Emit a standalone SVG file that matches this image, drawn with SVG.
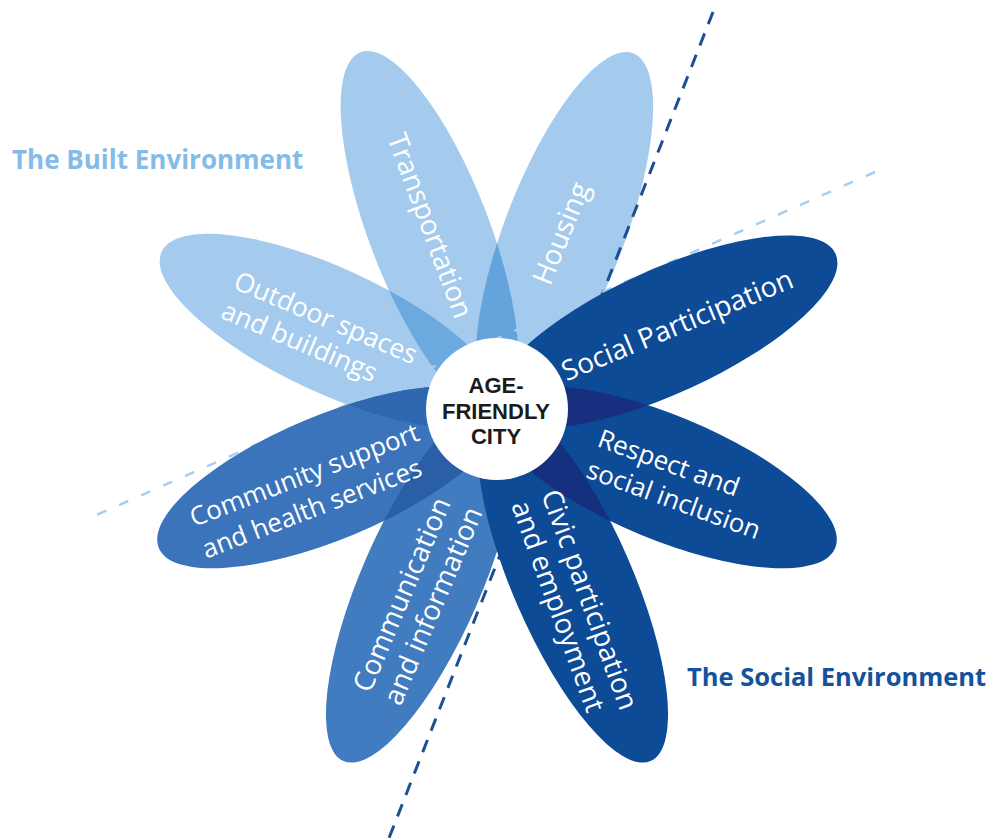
<svg xmlns="http://www.w3.org/2000/svg" width="993" height="840" viewBox="0 0 993 840">
<style>
.light{fill:#a4cbee}
.mid1{fill:#3b74bb}
.mid2{fill:#417bc0}
.dark{fill:#0d4b97}
.lbl{fill:#ffffff;font-family:"Open Sans","Liberation Sans",sans-serif;font-size:28px}
.lbl26{font-size:26px}
.lbl265{font-size:26.5px}
.ctr{fill:#1b1b1b;font-family:"Liberation Sans",Arial,sans-serif;font-size:22px;font-weight:bold;text-anchor:middle}
.title{font-family:"Open Sans","Liberation Sans",sans-serif;font-size:26px;font-weight:bold}
.title-s{font-size:25.5px}
.dash-dark{stroke:#1d4f93;stroke-width:3;stroke-dasharray:13 10;fill:none}
.dash-light{stroke:#a9cdee;stroke-width:2.5;stroke-dasharray:10 14;fill:none}
</style>
<defs>
<ellipse id="p-trans" cx="429.6" cy="232.5" rx="193" ry="60" transform="rotate(-111 429.6 232.5)"/>
<ellipse id="p-housing" cx="564.4" cy="232.5" rx="192" ry="60" transform="rotate(-69 564.4 232.5)"/>
<ellipse id="p-outdoor" cx="331.6" cy="330.9" rx="187.5" ry="62" transform="rotate(-155 331.6 330.9)"/>
<ellipse id="p-social" cx="664" cy="331.9" rx="188.5" ry="62" transform="rotate(-24.5 664 331.9)"/>
<ellipse id="p-respect" cx="663.8" cy="477.1" rx="185.5" ry="62" transform="rotate(22.5 663.8 477.1)"/>
<ellipse id="p-civic" cx="572.8" cy="582.2" rx="195" ry="60" transform="rotate(66.5 572.8 582.2)"/>
<ellipse id="p-comm" cx="421.2" cy="582.2" rx="195" ry="60" transform="rotate(113.5 421.2 582.2)"/>
<ellipse id="p-community" cx="330.2" cy="477.1" rx="185.5" ry="62" transform="rotate(157.5 330.2 477.1)"/>
<clipPath id="c-outdoor"><use href="#p-outdoor"/></clipPath>
<clipPath id="c-trans"><use href="#p-trans"/></clipPath>
<clipPath id="c-comm"><use href="#p-comm"/></clipPath>
<clipPath id="c-social"><use href="#p-social"/></clipPath>
<clipPath id="c-respect"><use href="#p-respect"/></clipPath>
</defs>

<rect width="993" height="840" fill="#ffffff"/>

<text class="title" x="12" y="169" fill="#84bbe8">The Built Environment</text>
<text class="title title-s" x="687" y="686" fill="#16519b">The Social Environment</text>

<g id="node-outdoor">
<use href="#p-outdoor" class="light"/>
<text class="lbl lbl265" transform="translate(232 288) rotate(23)"><tspan x="0" y="0">Outdoor spaces</tspan><tspan x="0" y="32">and buildings</tspan></text>
</g>

<g id="node-transportation">
<use href="#p-trans" class="light"/>
<use href="#p-trans" fill="#6ca9de" clip-path="url(#c-outdoor)"/>
<text class="lbl" text-anchor="middle" transform="translate(421 229) rotate(69.5)">Transportation</text>
</g>

<g id="node-housing">
<use href="#p-housing" class="light"/>
<use href="#p-housing" fill="#64a3db" clip-path="url(#c-trans)"/>
<text class="lbl" text-anchor="middle" transform="translate(570 237) rotate(-68)">Housing</text>
</g>

<g id="connectors">
<line class="dash-dark" x1="713" y1="12" x2="389" y2="838"/>
<line class="dash-light" x1="875" y1="172" x2="92" y2="517"/>
</g>

<g id="node-communication">
<use href="#p-comm" class="mid2"/>
<text class="lbl" transform="translate(370 694) rotate(-67)"><tspan x="0" y="0">Communication</tspan><tspan x="0" y="33">and information</tspan></text>
</g>

<g id="node-community">
<use href="#p-community" class="mid1"/>
<use href="#p-community" fill="#2f68b0" clip-path="url(#c-outdoor)"/>
<use href="#p-community" fill="#2a5fa7" clip-path="url(#c-comm)"/>
<text class="lbl lbl26" transform="translate(194 527) rotate(-21)"><tspan x="0" y="0">Community support</tspan><tspan x="0" y="34">and health services</tspan></text>
</g>

<g id="node-social">
<use href="#p-social" class="dark"/>
<text class="lbl" text-anchor="middle" transform="translate(681 334) rotate(-22.5)">Social Participation</text>
</g>

<g id="node-respect">
<use href="#p-respect" class="dark"/>
<use href="#p-respect" fill="#182f80" clip-path="url(#c-social)"/>
<text class="lbl lbl26" transform="translate(596 446) rotate(20)"><tspan x="0" y="0">Respect and</tspan><tspan x="0" y="33">social inclusion</tspan></text>
</g>

<g id="node-civic">
<use href="#p-civic" class="dark"/>
<use href="#p-civic" fill="#15307f" clip-path="url(#c-respect)"/>
<text class="lbl" transform="translate(541 494) rotate(70)"><tspan x="0" y="0">Civic participation</tspan><tspan x="0" y="32">and employment</tspan></text>
</g>

<g id="node-center">
<circle cx="497" cy="409" r="71" fill="#ffffff"/>
<text class="ctr" x="496" y="393">AGE-</text>
<text class="ctr" x="496" y="419">FRIENDLY</text>
<text class="ctr" x="496" y="444">CITY</text>
</g>
</svg>
